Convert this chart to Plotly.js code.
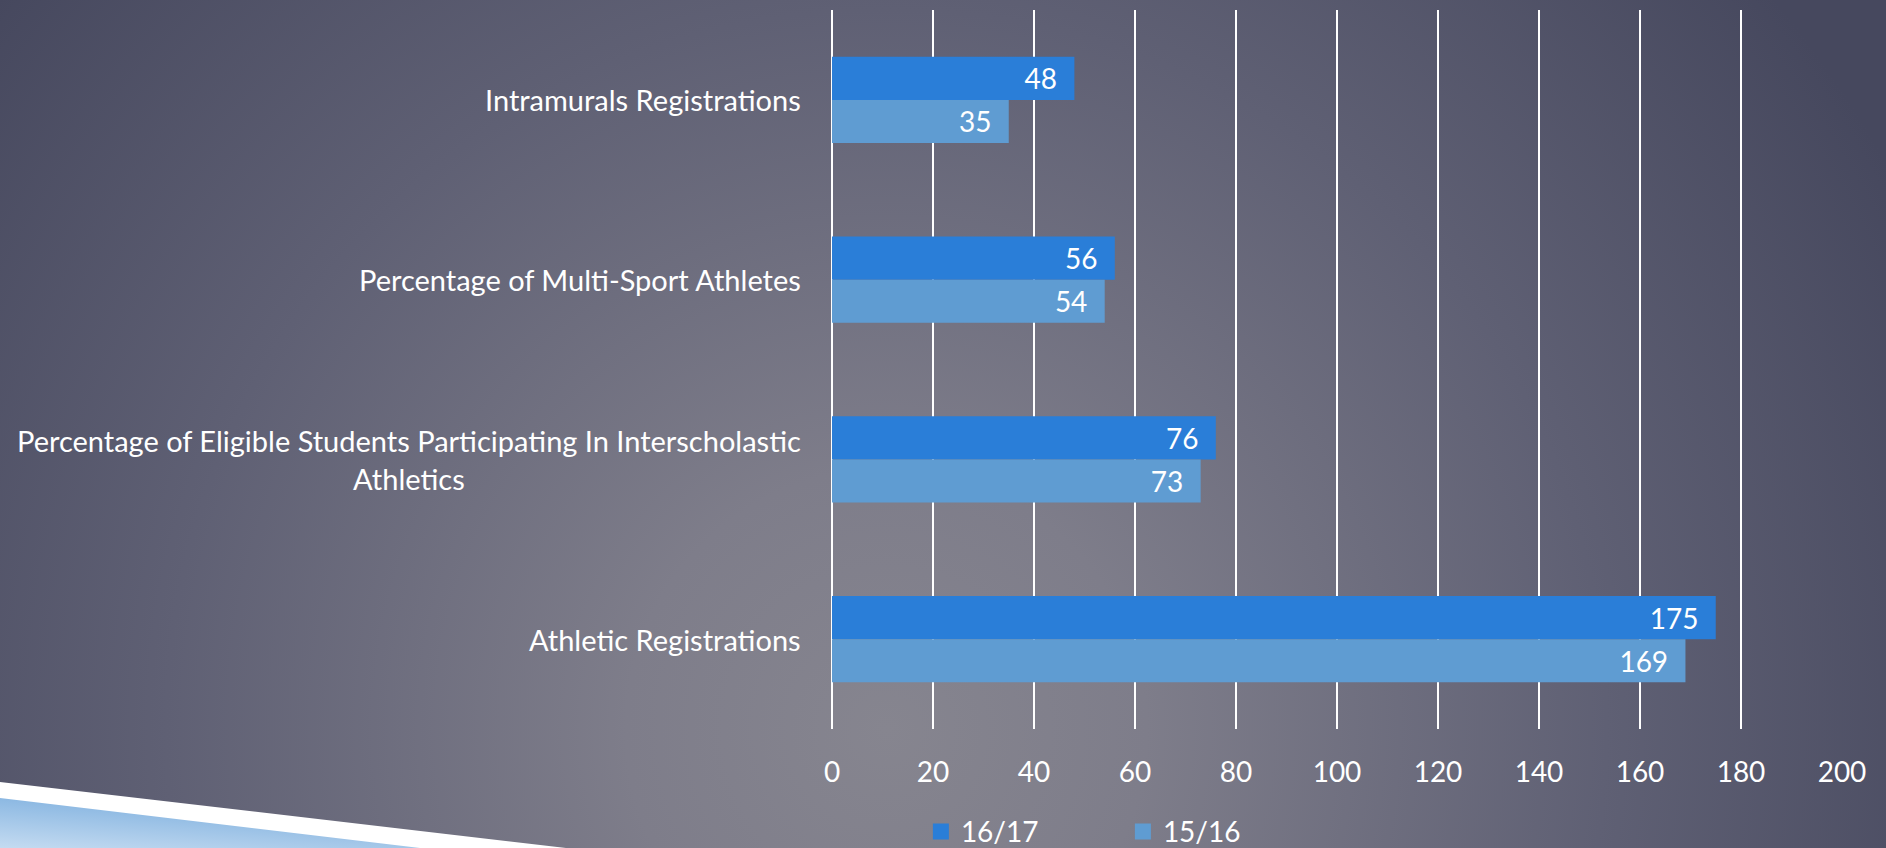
<!DOCTYPE html>
<html>
<head>
<meta charset="utf-8">
<script src="https://cdn.plot.ly/plotly-3.0.1.min.js"></script>
<style>
  html, body { margin: 0; padding: 0; width: 1886px; height: 848px; overflow: hidden; }
  body {
    background: radial-gradient(circle at 47% 86%, #86858f 0px, #7e7d8a 260px, #5f6074 720px, #46485e 1150px);
    position: relative;
  }
  #deco { position: absolute; left: 0; top: 0; width: 1886px; height: 848px; z-index: 0; }
  #chart { position: absolute; left: 0; top: 0; width: 1886px; height: 848px; z-index: 1; }
</style>
</head>
<body>
<svg id="deco" width="1886" height="848" xmlns="http://www.w3.org/2000/svg">
  <defs>
    <linearGradient id="blueGrad" x1="0" y1="1" x2="0.6" y2="0">
      <stop offset="0" stop-color="#c4dbf1"/>
      <stop offset="1" stop-color="#78acdd"/>
    </linearGradient>
  </defs>
  <polygon points="0,782 566,848 0,848" fill="#ffffff"/>
  <polygon points="0,798 420,848 0,848" fill="url(#blueGrad)"/>
</svg>
<div id="chart"></div>
<script>
const categories = [
  "Intramurals Registrations",
  "Percentage of Multi-Sport Athletes",
  "Percentage of Eligible Students Participating In Interscholastic<br>Athletics",
  "Athletic Registrations"
];
const series1617 = [48, 56, 76, 175];
const series1516 = [35, 54, 73, 169];
const seriesNames = ["16/17", "15/16"];
const xTicks = [0, 20, 40, 60, 80, 100, 120, 140, 160, 180, 200];

const colors = ["#2a7ed8", "#5f9cd2"];
const FONT = "Lato, 'Open Sans', sans-serif";
const NB = "\u00a0\u00a0";

const traces = [
  {
    type: "bar", orientation: "h", name: seriesNames[0],
    y: categories, x: series1617,
    marker: { color: colors[0] },
    text: series1617.map(v => String(v)),
    texttemplate: "%{text}" + NB,
    textposition: "inside", insidetextanchor: "end", textangle: 0,
    constraintext: "none",
    textfont: { color: "#ffffff", size: 28, family: FONT },
    showlegend: false, hoverinfo: "x+y"
  },
  {
    type: "bar", orientation: "h", name: seriesNames[1],
    y: categories, x: series1516,
    marker: { color: colors[1] },
    text: series1516.map(v => String(v)),
    texttemplate: "%{text}" + NB,
    textposition: "inside", insidetextanchor: "end", textangle: 0,
    constraintext: "none",
    textfont: { color: "#ffffff", size: 28, family: FONT },
    showlegend: false, hoverinfo: "x+y"
  },
  {
    type: "scatter", mode: "markers", name: seriesNames[0],
    x: [null], y: [null],
    marker: { symbol: "square", size: 16, color: colors[0] },
    showlegend: true, hoverinfo: "skip"
  },
  {
    type: "scatter", mode: "markers", name: seriesNames[1],
    x: [null], y: [null],
    marker: { symbol: "square", size: 16, color: colors[1] },
    showlegend: true, hoverinfo: "skip"
  }
];

const annotations = categories.map(c => ({
  xref: "paper", yref: "y", x: 0, y: c,
  xanchor: "right", yanchor: "middle", xshift: -29,
  text: c, align: "center", showarrow: false,
  font: { color: "#ffffff", size: 29, family: FONT }
}));

const layout = {
  width: 1886, height: 848,
  paper_bgcolor: "rgba(0,0,0,0)",
  plot_bgcolor: "rgba(0,0,0,0)",
  margin: { l: 832, r: 44, t: 10, b: 119, pad: 0, autoexpand: false },
  barmode: "group",
  bargap: 0.52,
  bargroupgap: 0,
  font: { family: FONT, color: "#ffffff", size: 28 },
  xaxis: {
    range: [0, 200],
    tickvals: xTicks,
    ticktext: xTicks.map(String),
    showgrid: true, gridcolor: "#ffffff", gridwidth: 2,
    zeroline: true, zerolinecolor: "#ffffff", zerolinewidth: 2,
    showline: false, ticks: "",
    ticklabelstandoff: 24,
    automargin: false,
    tickfont: { size: 28, color: "#ffffff", family: FONT },
    fixedrange: true
  },
  yaxis: {
    type: "category",
    categoryarray: categories, categoryorder: "array",
    autorange: "reversed",
    showticklabels: false, showgrid: false, zeroline: false, showline: false,
    automargin: false,
    ticks: "", fixedrange: true
  },
  legend: {
    orientation: "h",
    x: 0.088, xanchor: "left",
    y: -0.143, yanchor: "middle",
    font: { size: 28, color: "#ffffff", family: FONT },
    bgcolor: "rgba(0,0,0,0)",
    entrywidth: 157, entrywidthmode: "pixels",
    itemclick: false, itemdoubleclick: false
  },
  annotations: annotations,
  showlegend: true
};

Plotly.newPlot("chart", traces, layout, { displayModeBar: false, staticPlot: false });
</script>
</body>
</html>
